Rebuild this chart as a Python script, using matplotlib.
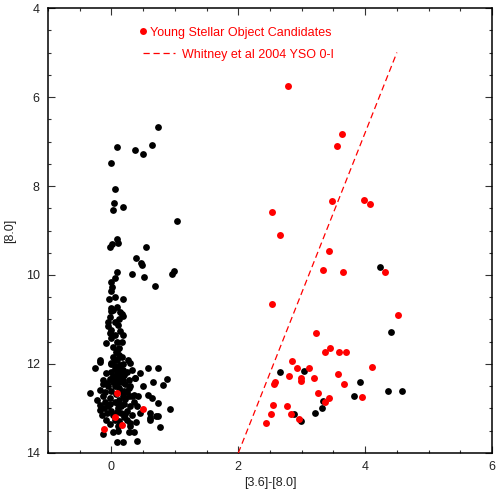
import matplotlib
matplotlib.use("Agg")
import matplotlib.pyplot as plt
from matplotlib.ticker import MultipleLocator

plt.rcParams["font.family"] = ["Liberation Sans", "DejaVu Sans"]

# field stars, colour [3.6]-[8.0] vs [8.0] magnitude
field_color = [
    0.74, 0.08, 0.37, 0.49, 0.64, -0.01, 0.06, 0.04, 0.03, 0.19, 1.03,
    0.08, 0.11, 0.01, -0.02, 0.54, 0.39, 0.47, 0.48, 0.33, 0.09, 0.06, -0.01, 0.01, 0.00,
    0.52, 0.68, 0.99, 0.96, -0.04, 0.06, 0.19, 0.00, 0.08,
    0.03, 0.00, 0.13, 0.16, 0.19, -0.05, -0.06, 0.11, 0.00, -0.02, 0.06, 0.14, 0.19,
    0.00, 0.08, 0.16, -0.09, 0.08, 0.07, 0.05, -0.18,
    -0.26, -0.18, 0.00, 0.08, 0.14, 0.29, 0.32, 0.00, 0.08, 0.19, -0.13, -0.07, 0.03,
    0.16, 0.37, 0.27, -0.34, -0.18, -0.13, -0.02, 0.19, 0.35, 0.42, 0.58, 0.74, 0.66,
    0.82, 0.87, 0.58, 0.64, 0.74,
    -0.18, -0.07, -0.15, -0.13, 0.03, 0.11, 0.27, 0.35, 0.29, 0.19, 0.08, 0.40, 0.61,
    0.74, 0.77, 0.61, 0.92, 0.60, 0.71, -0.18, 0.37, 0.32,
    0.05, 0.10, 0.02, 0.12, 0.20, 0.06, 0.12, 0.00, -0.05, 0.22, 0.25, 0.05, 0.12,
    0.20, -0.05, 0.00, 0.10, 0.25, 0.30, 0.15, 0.05, 0.20, -0.02, 0.10, 0.25, 0.33,
    0.15, -0.10, 0.40, 0.45, 0.10, 0.28, -0.08, 0.18, 0.03, 0.12, 0.24, -0.12, 0.38,
    0.02, 0.22, -0.22, 0.50, 0.45,
    0.00, 0.06, 0.14, -0.03, 0.08, 0.18, 0.30, -0.10, 0.07, 0.28, -0.02, 0.15, 0.08,
    0.22, -0.08, 0.12, 0.30, 0.04, 0.20, 0.10, -0.14, 0.35, 0.26, 0.17, 0.02, 0.12,
    0.05, 0.12, -0.03,
    4.23, 4.41, 2.66, 3.03, 3.92, 4.36, 4.58, 3.83, 3.33, 3.32, 3.21, 2.88, 2.99,
]
field_mag = [
    6.68, 7.13, 7.19, 7.27, 7.07, 7.48, 8.07, 8.39, 8.54, 8.47, 8.78,
    9.18, 9.27, 9.30, 9.38, 9.37, 9.62, 9.72, 9.78, 9.97, 9.93, 10.07, 10.16, 10.26, 10.36,
    10.04, 10.25, 9.90, 9.98, 10.55, 10.50, 10.53, 10.75, 10.73,
    10.78, 10.82, 10.84, 10.88, 10.92, 11.05, 11.15, 11.12, 11.24, 11.31, 11.35, 11.26, 11.35,
    11.42, 11.50, 11.50, 11.53, 11.70, 11.74, 11.90, 11.91,
    12.08, 11.95, 11.98, 11.91, 12.02, 11.98, 12.13, 12.17, 12.21, 12.13, 12.36, 12.43, 12.40,
    12.40, 12.32, 12.55, 12.66, 12.58, 12.73, 12.77, 12.73, 12.70, 12.73, 12.08, 12.08, 12.40,
    12.47, 12.34, 12.70, 12.77, 12.88,
    12.92, 13.11, 13.15, 13.58, 13.52, 13.50, 13.52, 13.52, 13.33, 13.75, 13.75, 13.72, 13.22,
    13.18, 13.41, 13.11, 13.02, 13.26, 13.18, 13.03, 12.31, 12.73,
    12.05, 12.10, 12.28, 12.30, 12.25, 12.50, 12.55, 12.60, 12.50, 12.45, 12.62, 12.85, 12.80,
    12.90, 12.95, 13.05, 13.00, 13.05, 12.95, 13.10, 13.25, 13.20, 13.35, 13.40, 13.25, 13.15,
    12.60, 12.85, 12.95, 13.10, 12.35, 12.35, 12.20, 12.00, 11.85, 11.80, 12.18, 13.00, 13.30,
    13.15, 12.78, 12.80, 12.50, 12.20,
    12.00, 12.12, 12.18, 12.33, 12.45, 12.35, 12.50, 12.62, 12.68, 12.72, 12.90, 12.95, 13.08,
    13.12, 13.25, 13.28, 13.40, 12.30, 12.60, 12.90, 12.45, 12.85, 11.90, 11.85, 11.62, 11.65,
    11.05, 10.98, 10.95,
    9.81, 11.29, 12.18, 12.15, 12.40, 12.60, 12.61, 12.73, 12.84, 12.99, 13.10, 13.13, 13.27,
]

# young stellar object candidates
yso_color = [
    2.79, 3.63, 3.56, 3.47, 3.98, 4.08, 2.53, 2.66, 3.43, 3.34, 3.65, 4.31, 2.53, 4.52,
    3.23, 3.44, 3.37, 3.58, 3.70, 2.84, 2.92, 3.12, 2.80, 2.99, 2.99, 3.19, 3.57, 4.11,
    3.67, 2.58, 2.56, 3.25, 3.95, 3.43, 3.37, 2.54, 2.77, 2.52, 2.83, 2.96, 2.44,
    0.09, 0.50, 0.05, 0.16, -0.12,
]
yso_mag = [
    5.75, 6.83, 7.09, 8.34, 8.31, 8.40, 8.59, 9.09, 9.45, 9.89, 9.93, 9.94, 10.65, 10.90,
    11.31, 11.63, 11.74, 11.74, 11.72, 11.93, 12.09, 12.10, 12.27, 12.31, 12.39, 12.31, 12.23, 12.07,
    12.46, 12.41, 12.45, 12.65, 12.75, 12.76, 12.85, 12.92, 12.94, 13.13, 13.12, 13.24, 13.32,
    12.66, 13.02, 13.20, 13.36, 13.47,
]

# Whitney et al 2004 class 0-I boundary
whitney_color = [2.0, 4.5]
whitney_mag = [14.0, 5.0]

fig = plt.figure(figsize=(4.96, 4.92), dpi=100)
ax = fig.add_axes([0.0968, 0.0793, 0.8952, 0.9044])

ax.scatter(field_color, field_mag, s=24, c="black", linewidths=0, zorder=2)
ax.scatter(yso_color, yso_mag, s=25, c="#ff0000", linewidths=0, zorder=3)
ax.plot(whitney_color, whitney_mag, color="#ff0000", lw=0.9, dashes=(5, 3), zorder=3)

ax.set_xlim(-1, 6)
ax.set_ylim(14, 4)
ax.xaxis.set_major_locator(MultipleLocator(2))
ax.xaxis.set_minor_locator(MultipleLocator(0.5))
ax.yaxis.set_major_locator(MultipleLocator(2))
ax.yaxis.set_minor_locator(MultipleLocator(0.5))
ax.tick_params(which="both", direction="in", top=True, right=True,
               color="#333333", width=0.8, labelsize=9, labelcolor="#222222")
ax.tick_params(which="major", length=5, pad=6)
ax.tick_params(which="minor", length=2.5)
for sp in ax.spines.values():
    sp.set_linewidth(1.1)

ax.set_xlabel("[3.6]-[8.0]", fontsize=9, color="#222222", labelpad=3)
ax.set_ylabel("[8.0]", fontsize=9, color="#222222", labelpad=7)

# legend drawn by hand
ax.plot([0.214], [0.949], "o", ms=5, color="#ff0000", mec="none", transform=ax.transAxes)
ax.text(0.230, 0.944, "Young Stellar Object Candidates", color="#ff0000", fontsize=9,
        va="center", ha="left", transform=ax.transAxes)
ax.plot([0.214, 0.286], [0.898, 0.898], color="#ff0000", lw=0.9, dashes=(5, 3),
        transform=ax.transAxes)
ax.text(0.302, 0.894, "Whitney et al 2004 YSO 0-I", color="#ff0000", fontsize=9,
        va="center", ha="left", transform=ax.transAxes)

fig.savefig("out.png", dpi=100)
